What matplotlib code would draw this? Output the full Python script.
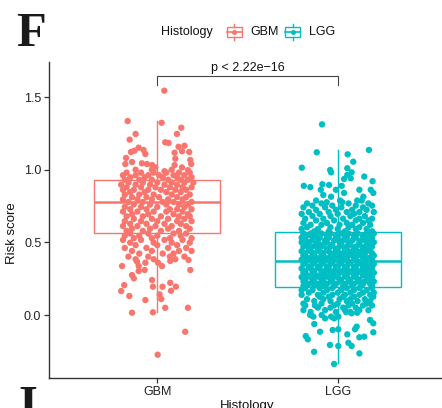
import matplotlib.pyplot as plt
from matplotlib.patches import Rectangle
from matplotlib.lines import Line2D

plt.rcParams['font.family'] = ['Liberation Sans', 'DejaVu Sans']

groups = ['GBM', 'LGG']
colors = ['#F8766D', '#00BFC4']

# box statistics
box_q1 = [0.566, 0.190]
box_med = [0.776, 0.374]
box_q3 = [0.929, 0.573]
box_lo = [0.019, -0.333]
box_hi = [1.335, 1.136]

p_label = 'p < 2.22e\u221216'

# GBM points: (band level, jitter offsets) for the dense part
gbm_rows = [
    (0.98, [-0.17, -0.09, -0.02, 0.05, 0.12, 0.18]),
    (0.962, [-0.19, -0.12, -0.05, 0.01, 0.09, 0.15]),
    (0.948, [-0.15, -0.07, 0.03, 0.11, 0.19]),
    (0.931, [-0.18, -0.10, -0.03, 0.06, 0.13, 0.17]),
    (0.912, [-0.16, -0.08, 0.0, 0.08, 0.15, 0.2]),
    (0.897, [-0.2, -0.12, -0.04, 0.04, 0.11]),
    (0.879, [-0.17, -0.09, -0.01, 0.07, 0.14, 0.19]),
    (0.862, [-0.19, -0.13, -0.05, 0.02, 0.10, 0.16]),
    (0.846, [-0.15, -0.07, 0.05, 0.13]),
    (0.829, [-0.18, -0.1, -0.02, 0.08, 0.18]),
    (0.811, [-0.14, -0.06, 0.01, 0.11, 0.16]),
    (0.796, [-0.19, -0.11, -0.03, 0.06, 0.14]),
    (0.778, [-0.16, -0.08, 0.03, 0.09, 0.19]),
    (0.761, [-0.13, -0.04, 0.05, 0.12, 0.17]),
    (0.744, [-0.18, -0.09, 0.0, 0.15]),
    (0.728, [-0.15, -0.06, 0.07, 0.11, 0.19]),
    (0.712, [-0.19, -0.11, -0.02, 0.05, 0.14]),
    (0.694, [-0.14, -0.05, 0.09, 0.17]),
    (0.679, [-0.17, -0.08, 0.02, 0.12, 0.18]),
    (0.662, [-0.13, -0.03, 0.06, 0.15]),
    (0.646, [-0.18, -0.09, 0.0, 0.11, 0.19]),
    (0.628, [-0.15, -0.06, 0.04, 0.13]),
    (0.612, [-0.19, -0.11, -0.01, 0.08, 0.16]),
    (0.594, [-0.14, -0.04, 0.06, 0.18]),
    (0.579, [-0.17, -0.08, 0.02, 0.12]),
    (0.561, [-0.15, -0.05, 0.09, 0.16]),
    (0.546, [-0.18, -0.1, 0.0, 0.13]),
    (0.529, [-0.13, -0.03, 0.07, 0.19]),
    (0.517, [-0.19, -0.09, 0.04, 0.14]),
    (0.498, [-0.15, -0.02, 0.08, 0.18]),
    (0.481, [-0.12, 0.0, 0.11]),
    (0.462, [-0.18, -0.06, 0.06, 0.16]),
    (0.441, [-0.14, -0.03, 0.12, 0.19]),
    (0.423, [-0.1, 0.03, 0.09]),
    (0.402, [-0.16, -0.05, 0.07, 0.15]),
    (0.384, [-0.12, -0.02, 0.1]),
]

# GBM sparse points outside the dense part
gbm_y_extra = [1.544, 1.335, 1.323, 1.289, 1.246, 1.246, 1.207, 1.189, 1.184,
               1.152, 1.158, 1.165, 1.131, 1.122, 1.136, 1.108, 1.117, 1.127,
               1.122, 1.081, 1.076, 1.067, 1.039, 1.053, 1.039, 1.044, 1.039,
               1.032, 1.016, 1.032, 1.016, 1.0, 1.0, 0.99, 1.0, 0.997,
               0.337, 0.367, 0.337, 0.36, 0.36, 0.337, 0.372, 0.379, 0.303,
               0.31, 0.31, 0.275, 0.253, 0.241, 0.222, 0.206, 0.195, 0.195,
               0.195, 0.165, 0.167, 0.131, 0.142, 0.11, 0.103, 0.05, 0.05,
               0.016, 0.019, -0.115, -0.273]
gbm_dx_extra = [0.039, -0.164, 0.024, 0.133, -0.12, 0.109, -0.153, 0.044, 0.063,
                -0.103, 0.118, 0.151, -0.126, -0.146, -0.076, -0.066, 0.096, 0.137,
                0.177, -0.173, 0.1, 0.183, 0.188, -0.14, -0.177, -0.085, -0.057,
                -0.029, -0.011, 0.096, 0.137, -0.12, -0.03, 0.04, 0.08, 0.17,
                -0.195, -0.112, -0.103, -0.066, 0.004, 0.026, 0.072, 0.173, -0.103,
                -0.07, 0.183, -0.14, -0.13, -0.029, 0.072, -0.183, -0.024, 0.029,
                0.103, -0.2, 0.076, -0.155, 0.013, 0.022, -0.066, 0.044, 0.17,
                -0.14, -0.024, 0.155, 0.002]

# LGG points: dense part
lgg_rows = [
    (0.862, [-0.094, -0.01, 0.12, 0.183]),
    (0.840, [0.035, 0.197]),
    (0.826, [-0.08]),
    (0.814, [-0.037, 0.142]),
    (0.788, [-0.12, 0.013, 0.108, 0.133]),
    (0.776, [-0.061, 0.025]),
    (0.768, [-0.17, -0.09, 0.06, 0.17]),
    (0.753, [-0.14, -0.03, 0.1, 0.19]),
    (0.741, [-0.19, -0.07, 0.02, 0.14]),
    (0.724, [-0.12, -0.01, 0.08, 0.16]),
    (0.709, [-0.16, -0.05, 0.05, 0.12, 0.2]),
    (0.696, [-0.2, -0.1, 0.0, 0.09]),
    (0.681, [-0.14, -0.04, 0.07, 0.15]),
    (0.663, [-0.18, -0.08, 0.03, 0.12, 0.19]),
    (0.651, [-0.12, -0.02, 0.1, 0.17]),
    (0.634, [-0.19, -0.06, 0.05, 0.14]),
    (0.621, [-0.15, -0.09, 0.01, 0.08, 0.18]),
    (0.604, [-0.17, -0.04, 0.06, 0.12]),
    (0.592, [-0.2, -0.11, 0.0, 0.1, 0.16]),
    (0.576, [-0.13, -0.05, 0.04, 0.19]),
    (0.561, [-0.19, -0.15, -0.09, -0.04, 0.02, 0.06, 0.11, 0.16, 0.2]),
    (0.546, [-0.17, -0.12, -0.06, -0.01, 0.04, 0.09, 0.14, 0.18]),
    (0.532, [-0.2, -0.14, -0.1, -0.05, 0.0, 0.05, 0.1, 0.15, 0.19]),
    (0.514, [-0.18, -0.13, -0.07, -0.02, 0.03, 0.08, 0.13, 0.17]),
    (0.501, [-0.2, -0.16, -0.11, -0.06, 0.01, 0.06, 0.12, 0.16, 0.2]),
    (0.484, [-0.17, -0.12, -0.08, -0.03, 0.02, 0.07, 0.12, 0.18]),
    (0.471, [-0.19, -0.14, -0.09, -0.04, 0.01, 0.05, 0.1, 0.15, 0.19]),
    (0.456, [-0.16, -0.11, -0.06, -0.01, 0.04, 0.09, 0.14, 0.18]),
    (0.439, [-0.2, -0.15, -0.1, -0.05, 0.0, 0.06, 0.11, 0.16]),
    (0.426, [-0.18, -0.13, -0.08, -0.02, 0.03, 0.08, 0.13, 0.19]),
    (0.409, [-0.19, -0.14, -0.09, -0.04, 0.01, 0.06, 0.11, 0.15, 0.2]),
    (0.396, [-0.17, -0.12, -0.07, -0.02, 0.03, 0.09, 0.14, 0.18]),
    (0.381, [-0.2, -0.15, -0.1, -0.05, 0.0, 0.05, 0.1, 0.16, 0.19]),
    (0.364, [-0.18, -0.13, -0.08, -0.03, 0.02, 0.07, 0.12, 0.17]),
    (0.351, [-0.19, -0.14, -0.09, -0.04, 0.01, 0.06, 0.11, 0.15, 0.2]),
    (0.334, [-0.16, -0.11, -0.06, -0.01, 0.04, 0.09, 0.14, 0.18]),
    (0.321, [-0.2, -0.15, -0.1, -0.05, 0.0, 0.05, 0.1, 0.16, 0.19]),
    (0.304, [-0.18, -0.13, -0.07, -0.02, 0.03, 0.08, 0.13, 0.17]),
    (0.291, [-0.19, -0.14, -0.09, -0.04, 0.01, 0.06, 0.11, 0.15, 0.2]),
    (0.274, [-0.17, -0.12, -0.07, -0.02, 0.04, 0.09, 0.14, 0.18]),
    (0.261, [-0.2, -0.15, -0.1, -0.05, 0.0, 0.05, 0.1, 0.16, 0.19]),
    (0.244, [-0.18, -0.13, -0.08, -0.03, 0.02, 0.07, 0.12, 0.17]),
    (0.231, [-0.19, -0.14, -0.09, -0.04, 0.01, 0.06, 0.11, 0.15, 0.2]),
    (0.214, [-0.16, -0.11, -0.06, -0.01, 0.04, 0.09, 0.14, 0.18]),
    (0.201, [-0.19, -0.13, -0.08, -0.02, 0.03, 0.08, 0.13, 0.19]),
    (0.186, [-0.18, -0.1, -0.03, 0.05, 0.12, 0.19]),
    (0.171, [-0.2, -0.14, -0.06, 0.02, 0.09, 0.16]),
    (0.154, [-0.16, -0.08, 0.0, 0.07, 0.14, 0.2]),
    (0.139, [-0.2, -0.11, -0.03, 0.04, 0.12, 0.18]),
    (0.126, [-0.1, -0.05, 0.03, 0.09, 0.197]),
    (0.109, [-0.17, -0.08, 0.01, 0.07, 0.15]),
    (0.096, [-0.13, -0.04, 0.05, 0.11, 0.18]),
    (0.079, [-0.19, -0.09, 0.0, 0.08, 0.16]),
    (0.066, [-0.18, -0.126, -0.02, 0.06, 0.14, 0.19]),
    (0.051, [-0.11, -0.04, 0.03, 0.1]),
    (0.034, [-0.19, -0.07, 0.04, 0.12, 0.17]),
    (0.021, [-0.15, -0.01, 0.046, 0.07]),
]

# LGG sparse points outside the dense part
lgg_y_extra = [1.312, 1.12, 1.136, 1.106, 1.055, 1.014, 0.998, 0.982, 1.01,
               0.964, 0.982, 0.936, 0.941, 0.953, 0.921, 0.889, 0.88, 0.9,
               0.895, 0.889,
               0.0, -0.011, 0.0, -0.023, -0.011, -0.023, -0.011, 0.012, 0.016,
               -0.034, -0.057, -0.062, -0.08, -0.098, -0.103, -0.098, -0.115,
               -0.145, -0.167, -0.133, -0.153, -0.149, -0.119, -0.206, -0.213,
               -0.191, -0.213, -0.253, -0.264, -0.337]
lgg_dx_extra = [-0.087, -0.116, 0.173, 0.055, 0.086, -0.199, -0.042, -0.037, 0.053,
                0.053, 0.077, 0.035, 0.072, 0.147, 0.193, -0.188, -0.152, -0.085,
                -0.048, 0.022,
                -0.153, -0.135, -0.089, -0.07, -0.037, -0.02, 0.003, 0.077, 0.108,
                0.179, 0.197, -0.13, 0.105, 0.096, -0.028, 0.003, -0.098,
                -0.177, -0.166, 0.053, 0.12, 0.147, 0.197, -0.043, 0.003,
                0.059, 0.077, -0.131, 0.12, -0.02]


def flatten(rows, y_extra, dx_extra):
    ys, dxs = [], []
    for level, offsets in rows:
        for d in offsets:
            ys.append(level)
            dxs.append(d)
    return ys + y_extra, dxs + dx_extra


gbm_y, gbm_dx = flatten(gbm_rows, gbm_y_extra, gbm_dx_extra)
lgg_y, lgg_dx = flatten(lgg_rows, lgg_y_extra, lgg_dx_extra)
points = [(gbm_y, gbm_dx), (lgg_y, lgg_dx)]

W, H = 442, 408
fig = plt.figure(figsize=(W / 100, H / 100), dpi=100)
ax = fig.add_axes([49 / W, 1 - 378.4 / H, 397 / W, 316.8 / H])

axis_col = '#333333'
for i, col in enumerate(colors):
    stats = [dict(q1=box_q1[i], med=box_med[i], q3=box_q3[i],
                  whislo=box_lo[i], whishi=box_hi[i], fliers=[])]
    ax.bxp(stats, positions=[i + 1], widths=0.7, showcaps=False,
           showfliers=False, patch_artist=True,
           boxprops=dict(facecolor='white', edgecolor=col, linewidth=1.0),
           whiskerprops=dict(color=col, linewidth=1.0),
           medianprops=dict(color=col, linewidth=1.8),
           zorder=1)
    ys, dxs = points[i]
    ax.scatter([i + 1 + d for d in dxs], ys, s=21, color=col,
               edgecolors='none', zorder=3)

# significance bracket
yb, yt = 1.583, 1.645
ax.plot([1, 1, 2, 2], [yb, yt, yt, yb], color='#444444', lw=0.8, zorder=4)
ax.text(1.5, 1.662, p_label, ha='center', va='bottom', fontsize=9,
        color='#111111')

ax.set_xlim(0.4, 2.6)
ax.set_ylim(-0.436, 1.744)
ax.set_xticks([1, 2])
ax.set_xticklabels(groups)
ax.set_yticks([0.0, 0.5, 1.0, 1.5])
ax.set_yticklabels(['0.0', '0.5', '1.0', '1.5'])
ax.tick_params(axis='both', colors=axis_col, labelcolor='#222222',
               labelsize=9, length=3.5, width=0.9, pad=2)
for s in ['top', 'right']:
    ax.spines[s].set_visible(False)
for s in ['left', 'bottom']:
    ax.spines[s].set_color(axis_col)
    ax.spines[s].set_linewidth(1.0)

# axis titles
fig.text(12 / W, 1 - 233 / H, 'Risk score', rotation=90, ha='center',
         va='center', fontsize=9.5, color='#111111')
fig.text(247.5 / W, 1 - 400 / H, 'Histology', ha='center', va='top',
         fontsize=9.5, color='#111111')

# panel letters
fig.text(31 / W, 1 - 46 / H, 'F', ha='center', va='baseline', fontsize=35,
         fontweight='bold', family='Liberation Serif', color='#1a1a1a')
fig.text(28 / W, 1 - 419 / H, 'I', ha='center', va='baseline', fontsize=35,
         fontweight='bold', family='Liberation Serif', color='#1a1a1a')


# legend drawn in figure pixels
def fx(x):
    return x / W


def fy(y):
    return 1 - y / H


fig.text(fx(161.5), fy(31.7), 'Histology', ha='left', va='center',
         fontsize=9, color='#111111')
key_x = [226.7, 285.3]
lab_x = [250.5, 308.5]
for i, col in enumerate(colors):
    x0 = key_x[i]
    cx = x0 + 7.5
    fig.add_artist(Rectangle((fx(x0), fy(36.7)), 15 / W, 10 / H,
                             transform=fig.transFigure, facecolor='white',
                             edgecolor=col, linewidth=1.0))
    fig.add_artist(Line2D([fx(x0), fx(x0 + 15)], [fy(31.7), fy(31.7)],
                          transform=fig.transFigure, color=col, lw=1.2))
    fig.add_artist(Line2D([fx(cx), fx(cx)], [fy(24), fy(26.7)],
                          transform=fig.transFigure, color=col, lw=1.0))
    fig.add_artist(Line2D([fx(cx), fx(cx)], [fy(36.7), fy(39.5)],
                          transform=fig.transFigure, color=col, lw=1.0))
    fig.add_artist(Line2D([fx(cx)], [fy(31.7)], transform=fig.transFigure,
                          marker='o', markersize=3.6, color=col, lw=0,
                          markeredgewidth=0))
    fig.text(fx(lab_x[i]), fy(31.7), groups[i], ha='left', va='center',
             fontsize=9, color='#111111')

fig.savefig('out.png', dpi=100)
